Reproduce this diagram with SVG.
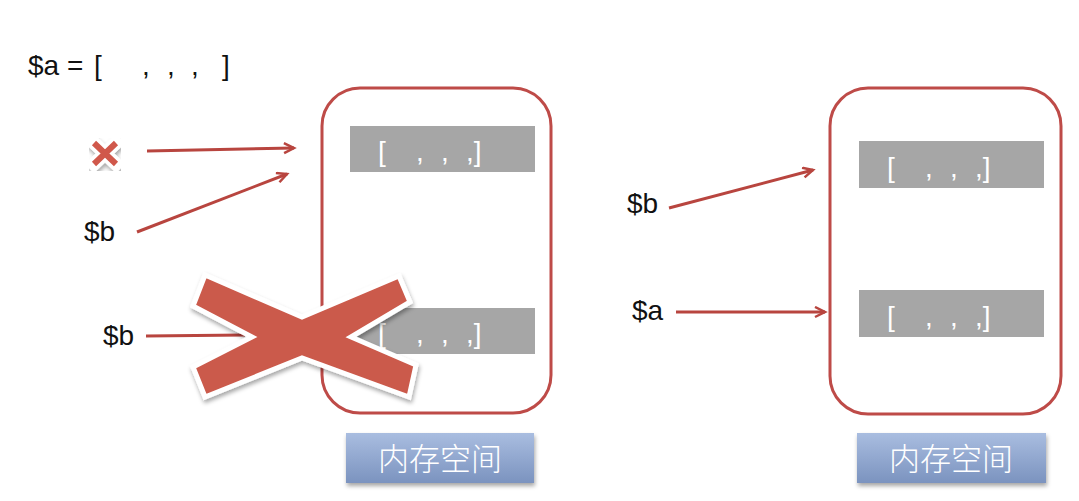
<svg xmlns="http://www.w3.org/2000/svg" width="1079" height="501" viewBox="0 0 1079 501">
<style>
.t{font-family:"Liberation Sans","Noto Sans",sans-serif;font-size:28px;fill:#111}
.mem{fill:#fff;stroke:#be4b48;stroke-width:3}
.bar{fill:#a6a6a6}
.bt{font-family:"Liberation Sans","Noto Sans",sans-serif;font-size:28px;fill:#fff;font-weight:300}
.lbl{fill:url(#blue);filter:url(#sh)}
.lt{font-family:"Noto Sans CJK SC","Noto Sans",sans-serif;font-size:31px;fill:#fff;font-weight:300;text-anchor:middle}
.c{stroke:#b8453f;stroke-width:3;fill:none;marker-end:url(#ah)}
.cl{stroke:#b8453f;stroke-width:3;fill:none}
</style>
<defs>
<linearGradient id="blue" x1="0" y1="0" x2="0" y2="1">
<stop offset="0" stop-color="#a9bde0"/>
<stop offset="1" stop-color="#7b93bf"/>
</linearGradient>
<filter id="sh" x="-20%" y="-20%" width="140%" height="150%">
<feDropShadow dx="1" dy="3" stdDeviation="2" flood-color="#000" flood-opacity="0.35"/>
</filter>
<marker id="ah" markerWidth="14" markerHeight="14" refX="11" refY="6" orient="auto" markerUnits="userSpaceOnUse">
<path d="M1,1 L11,6 L1,11" fill="none" stroke="#b8453f" stroke-width="2.5"/>
</marker>
</defs>
<rect width="1079" height="501" fill="#fff"/>

<g id="code">
<text class="t" x="28" y="75">$a =</text>
<text class="t" x="94" y="75">[</text>
<text class="t" x="142" y="75">,</text>
<text class="t" x="167" y="75">,</text>
<text class="t" x="191" y="75">,</text>
<text class="t" x="222" y="75">]</text>
</g>

<g id="memory-left">
<rect class="mem" x="322" y="88" width="229" height="325" rx="38"/>
<rect class="bar" x="350" y="126" width="185" height="46"/>
<text class="bt" x="378" y="161">[</text>
<text class="bt" x="416" y="161">,</text>
<text class="bt" x="441" y="161">,</text>
<text class="bt" x="466" y="161">,]</text>
<rect class="bar" x="350" y="308" width="185" height="46"/>
<text class="bt" x="378" y="343">[</text>
<text class="bt" x="416" y="343">,</text>
<text class="bt" x="441" y="343">,</text>
<text class="bt" x="466" y="343">,]</text>
</g>
<g id="label-left">
<rect class="lbl" x="346" y="433" width="188" height="50"/>
<text class="lt" x="440" y="470">内存空间</text>
</g>

<g id="memory-right">
<rect class="mem" x="830" y="88" width="231" height="326" rx="38"/>
<rect class="bar" x="859" y="141" width="185" height="47"/>
<text class="bt" x="887" y="177">[</text>
<text class="bt" x="925" y="177">,</text>
<text class="bt" x="950" y="177">,</text>
<text class="bt" x="975" y="177">,]</text>
<rect class="bar" x="859" y="290" width="185" height="47"/>
<text class="bt" x="887" y="326">[</text>
<text class="bt" x="925" y="326">,</text>
<text class="bt" x="950" y="326">,</text>
<text class="bt" x="975" y="326">,]</text>
</g>
<g id="label-right">
<rect class="lbl" x="857" y="433" width="189" height="50"/>
<text class="lt" x="951" y="470">内存空间</text>
</g>

<g id="vars">
<text class="t" x="84" y="241">$b</text>
<text class="t" x="103" y="345">$b</text>
<text class="t" x="627" y="213">$b</text>
<text class="t" x="632" y="320">$a</text>
</g>

<g id="small-x" filter="url(#sh)">
<path d="M94,143 L116,164 M116,143 L94,164" stroke="#fff" stroke-width="13" stroke-linecap="square"/>
<path d="M94,143 L116,164 M116,143 L94,164" stroke="#d0584b" stroke-width="6"/>
</g>

<g id="connectors">
<path class="c" d="M147,151 L294,148"/>
<path class="c" d="M137,232 L287,174"/>
<path class="cl" d="M146,336 L245,335"/>
<path class="c" d="M669,208 L813,170"/>
<path class="c" d="M676,312 L825,312"/>
</g>

<g id="big-x" filter="url(#sh)">
<polygon points="205,275 302,317 399,276 410,302 351,337 416,365 409,397 302,358 205,397 193,367 252,337 193,306" fill="#cb5a4b" stroke="#fff" stroke-width="5" stroke-linejoin="miter"/>
</g>
</svg>
